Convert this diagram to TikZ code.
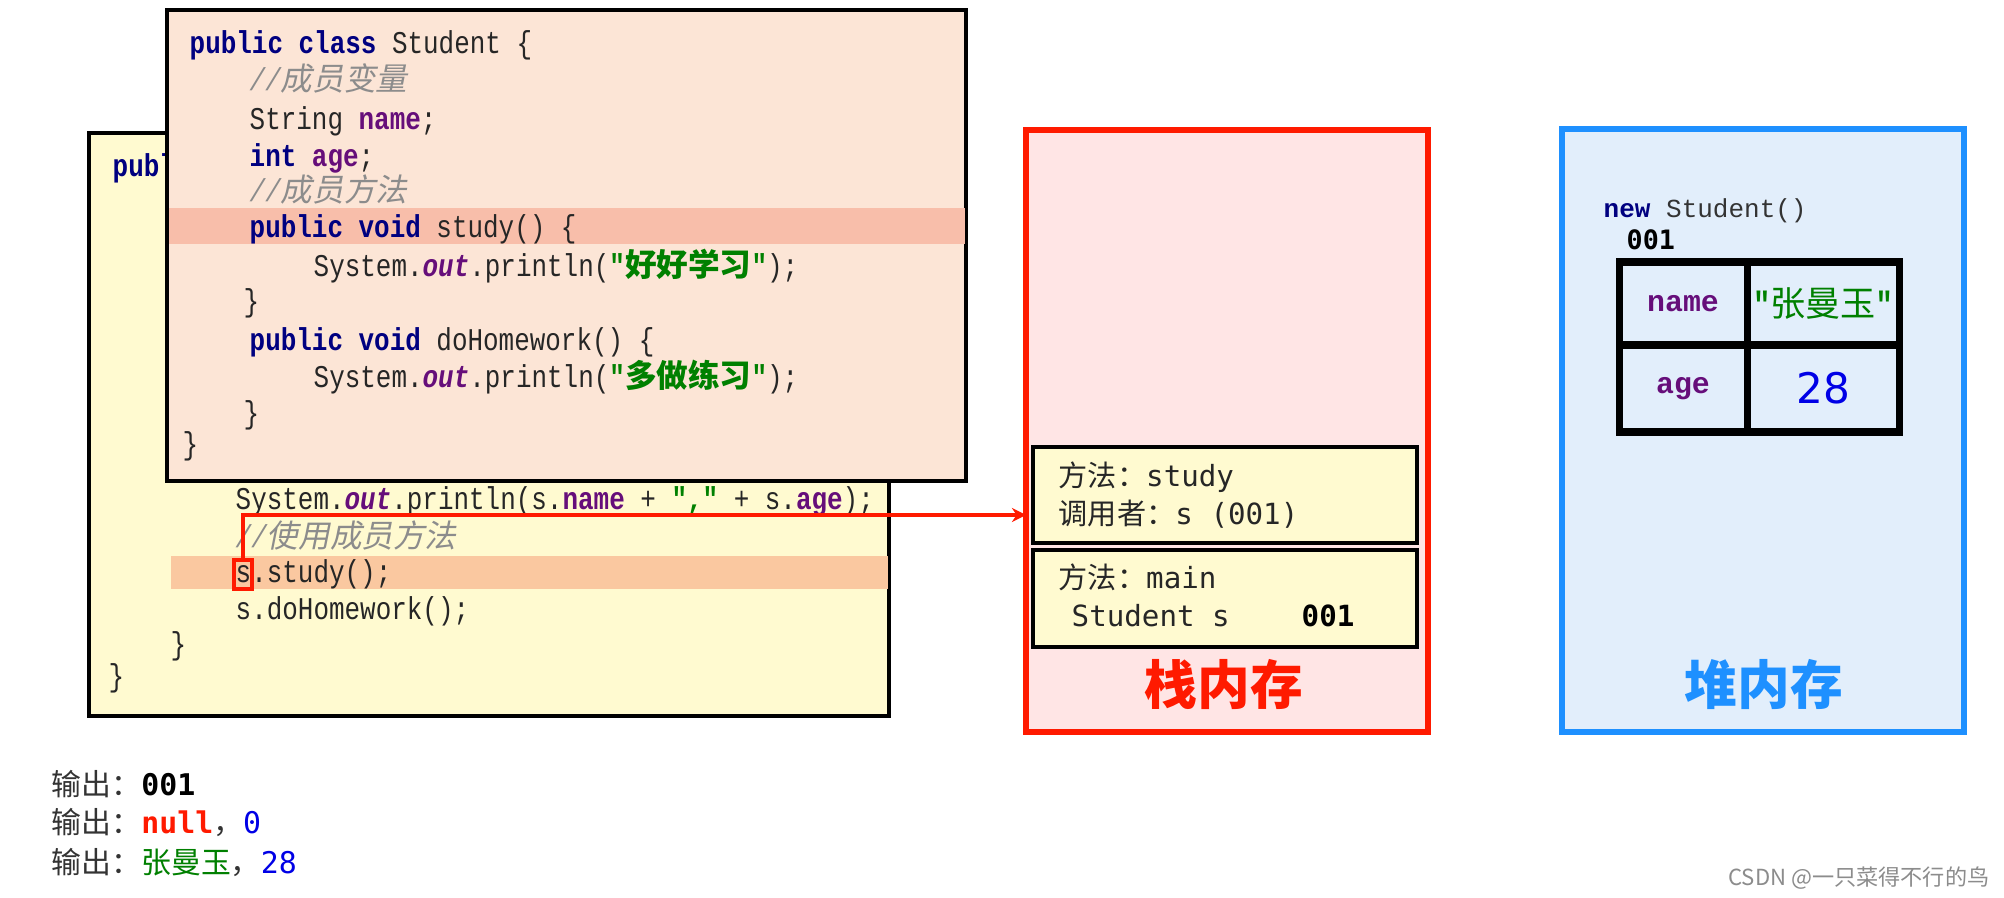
\documentclass[tikz,border=0pt]{standalone}
\usepackage{fontspec}
\usepackage{tikz}
\usetikzlibrary{
  arrows.meta,
  positioning
}
\newfontfamily\codefont[FakeStretch=0.82]{Liberation Mono}
\newfontfamily\courfont{Liberation Mono}
\newfontfamily\cjkfont{Noto Sans CJK SC}
\newfontfamily\cjkslant[FakeSlant=0.2]{Noto Sans CJK SC}
\newfontfamily\framefont{DejaVu Sans Mono}
\newfontfamily\numfont{DejaVu Sans}

\definecolor{kwblue}{RGB}{0,0,128}
\definecolor{fieldpurple}{RGB}{102,14,122}
\definecolor{strgreen}{RGB}{0,128,0}
\definecolor{cmtgray}{RGB}{140,140,140}
\definecolor{peach}{RGB}{252,229,214}
\definecolor{peachline}{RGB}{248,190,170}
\definecolor{cream}{RGB}{255,250,208}
\definecolor{creamline}{RGB}{250,200,160}
\definecolor{stackpink}{RGB}{255,229,229}
\definecolor{stackred}{RGB}{255,26,0}
\definecolor{heapfill}{RGB}{226,238,251}
\definecolor{heapedge}{RGB}{30,144,255}
\definecolor{numblue}{RGB}{0,0,230}

\newcommand{\kw}[1]{\textcolor{kwblue}{\bfseries #1}}
\newcommand{\fld}[1]{\textcolor{fieldpurple}{\bfseries #1}}
\newcommand{\outf}{\textcolor{fieldpurple}{\bfseries\itshape out}}
\newcommand{\jstr}[1]{\textcolor{strgreen}{\bfseries #1}}
\newcommand{\cmt}[1]{\textcolor{cmtgray}{\itshape //{\cjkslant #1}}}

\begin{document}
\begin{tikzpicture}[x=0.1mm,y=-0.1mm,
  codeline/.style={anchor=base west,inner sep=0pt,text=black!85,
    font=\codefont\fontsize{9}{11}\selectfont},
  band/.style={inner sep=0pt,minimum height=3.4mm},
  framebox/.style={draw=black,line width=1pt,fill=cream,inner sep=0pt,
    minimum width=38.4mm,minimum height=9.6mm},
  frameline/.style={anchor=base west,inner sep=0pt,text=black!85,
    font=\framefont\fontsize{8.3}{10}\selectfont},
  memtitle/.style={inner sep=0pt,font=\cjkfont\bfseries\fontsize{15}{18}\selectfont},
  cell/.style={draw=black,line width=2pt,inner sep=0pt},
  outtext/.style={anchor=base west,inner sep=0pt,text=black!80,
    font=\cjkfont\fontsize{8.5}{10}\selectfont},
  arrow/.style={-{Stealth[length=4pt,width=4pt]},draw=stackred,line width=1.1pt}
]
\fill[white] (0,0) rectangle (2004,898);
\useasboundingbox (0,0) rectangle (2004,898);

% ---- main method box (partly covered) ----
\node[draw=black,line width=1pt,fill=cream,inner sep=0pt,
  minimum width=80mm,minimum height=58.3mm] (mainbox) at (489,424.5) {};
\node[band,fill=creamline,minimum width=71.7mm,minimum height=3.3mm] (mainband) at (529.5,572.5) {};
\node[codeline] (m1) at (112,177) {\kw{public}};
\node[codeline] (m2) at (235,510) {System.\outf.println(s.\fld{name} + \jstr{","} + s.\fld{age});};
\node[codeline] (m3) at (235,548) {\cmt{使用成员方法}};
\node[codeline] (m4) at (235,583) {s.study();};
\node[codeline] (m5) at (235,620) {s.doHomework();};
\node[codeline] (m6) at (170,655) {\}};
\node[codeline] (m7) at (108,687) {\}};
\node[draw=stackred,line width=1.2pt,inner sep=0pt,
  minimum width=1.8mm,minimum height=2.9mm] (sref) at (243,574.5) {};

% ---- Student class box ----
\node[draw=black,line width=1.2pt,fill=peach,inner sep=0pt,
  minimum width=79.9mm,minimum height=47.1mm] (classbox) at (566.5,245.5) {};
\node[band,fill=peachline,minimum width=79.6mm,minimum height=3.6mm] (classband) at (566.5,226) {};
\node[codeline] (c1)  at (189,54)  {\kw{public class} Student \{};
\node[codeline] (c2)  at (249,91)  {\cmt{成员变量}};
\node[codeline] (c3)  at (249,130) {String \fld{name};};
\node[codeline] (c4)  at (249,167) {\kw{int} \fld{age};};
\node[codeline] (c5)  at (249,202) {\cmt{成员方法}};
\node[codeline] (c6)  at (249,238) {\kw{public void} study() \{};
\node[codeline] (c7)  at (313,277) {System.\outf.println(\jstr{"{\cjkfont\bfseries 好好学习}"});};
\node[codeline] (c8)  at (243,312) {\}};
\node[codeline] (c9)  at (249,351) {\kw{public void} doHomework() \{};
\node[codeline] (c10) at (313,388) {System.\outf.println(\jstr{"{\cjkfont\bfseries 多做练习}"});};
\node[codeline] (c11) at (243,424) {\}};
\node[codeline] (c12) at (182,455) {\}};

% ---- stack memory ----
\node[draw=stackred,line width=1.8pt,fill=stackpink,inner sep=0pt,
  minimum width=40.2mm,minimum height=60.2mm] (stack) at (1227,431) {};
\node[framebox] (frStudy) at (1225,495) {};
\node[framebox,minimum height=9.7mm] (frMain) at (1225,598.5) {};
\node[frameline] (s1) at (1058,487) {{\cjkfont 方法：}study};
\node[frameline] (s2) at (1058,525) {{\cjkfont 调用者：}s (001)};
\node[frameline] (s3) at (1058,589) {{\cjkfont 方法：}main};
\node[frameline] (s4) at (1071,627) {Student s};
\node[frameline,font=\framefont\bfseries\fontsize{8.3}{10}\selectfont,text=black] (s5) at (1301,627) {001};
\node[memtitle,text=stackred] (stackname) at (1224,684) {栈内存};
\coordinate (hit) at (1026,515);
\draw[arrow] (sref.north) |- (hit);

% ---- heap memory ----
\node[draw=heapedge,line width=1.8pt,fill=heapfill,inner sep=0pt,
  minimum width=40.2mm,minimum height=60.3mm] (heap) at (1763,430.5) {};
\node[anchor=base west,inner sep=0pt,text=black!80,font=\courfont\fontsize{7.4}{9}\selectfont]
  (newobj) at (1603,218) {\kw{new} Student()};
\node[anchor=base west,inner sep=0pt,font=\framefont\bfseries\fontsize{7.6}{9}\selectfont]
  (addr) at (1626,250) {001};
\node[cell,minimum width=12.8mm,minimum height=8.3mm,text=fieldpurple,
  font=\courfont\bfseries\fontsize{8.5}{10}\selectfont] (cName) at (1683,303.5) {name};
\node[cell,minimum width=15.2mm,minimum height=8.3mm,text=strgreen,
  font=\cjkfont\fontsize{10}{12}\selectfont] (cNameV) at (1823,303.5) {{\codefont\bfseries"}张曼玉{\codefont\bfseries"}};
\node[cell,minimum width=12.8mm,minimum height=8.7mm,text=fieldpurple,
  font=\courfont\bfseries\fontsize{8.5}{10}\selectfont] (cAge) at (1683,388.5) {age};
\node[cell,minimum width=15.2mm,minimum height=8.7mm,text=numblue,
  font=\numfont\fontsize{12}{14}\selectfont] (cAgeV) at (1823,388.5) {28};
\node[memtitle,text=heapedge] (heapname) at (1764,684) {堆内存};

% ---- printed output ----
\node[outtext] (o1) at (51,796) {输出：{\framefont\bfseries\color{black}001}};
\node[outtext] (o2) at (51,834) {输出：{\framefont\bfseries\color{stackred}null}，{\framefont\color{numblue}0}};
\node[outtext] (o3) at (51,874) {输出：{\color{strgreen}张曼玉}，{\framefont\color{numblue}28}};

\node[anchor=base east,inner sep=0pt,text=black!45,font=\cjkfont\fontsize{6.3}{8}\selectfont]
  (mark) at (1990,886) {CSDN @一只菜得不行的鸟};
\end{tikzpicture}
\end{document}
